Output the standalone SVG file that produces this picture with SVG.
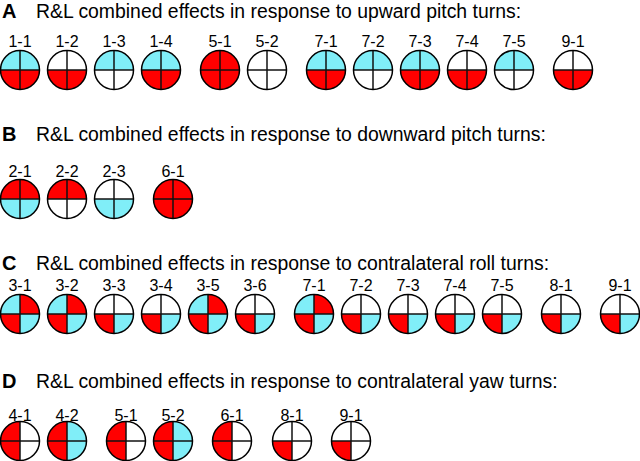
<svg xmlns="http://www.w3.org/2000/svg" xmlns:xlink="http://www.w3.org/1999/xlink" width="640" height="461" viewBox="0 0 640 461">
<style>
.c{fill:#80EEF8}
.r{fill:#FF0000}
.w{fill:#FFFFFF}
.ring{fill:none;stroke:#000;stroke-width:1.5}
.cross{stroke:#111;stroke-width:1.5}
.lbl{font-family:"Liberation Sans",Arial,sans-serif;font-size:16px;text-anchor:middle;fill:#000}
.ttl{font-family:"Liberation Sans",Arial,sans-serif;font-size:19.4px;fill:#000}
.let{font-family:"Liberation Sans",Arial,sans-serif;font-size:20px;font-weight:bold;fill:#000}
</style>
<defs>
<path id="tl" d="M0,0 L-19.5,0 A19.5,19.5 0 0 1 0,-19.5 Z"/>
<path id="tr" d="M0,0 L0,-19.5 A19.5,19.5 0 0 1 19.5,0 Z"/>
<path id="br" d="M0,0 L19.5,0 A19.5,19.5 0 0 1 0,19.5 Z"/>
<path id="bl" d="M0,0 L0,19.5 A19.5,19.5 0 0 1 -19.5,0 Z"/>
<g id="ring"><line class="cross" x1="-19.5" y1="0" x2="19.5" y2="0"/><line class="cross" x1="0" y1="-19.5" x2="0" y2="19.5"/><circle class="ring" r="19.5"/></g>
</defs>
<rect width="640" height="461" fill="#fff"/>

<g id="titles">
<text class="let" x="2" y="18">A</text><text class="ttl" x="36" y="18">R&amp;L combined effects in response to upward pitch turns:</text>
<text class="let" x="2" y="141">B</text><text class="ttl" x="36" y="141">R&amp;L combined effects in response to downward pitch turns:</text>
<text class="let" x="2" y="270">C</text><text class="ttl" x="36" y="270">R&amp;L combined effects in response to contralateral roll turns:</text>
<text class="let" x="2" y="388">D</text><text class="ttl" x="36" y="388">R&amp;L combined effects in response to contralateral yaw turns:</text>
</g>

<g id="connectors"/>

<!-- A -->
<g id="A-1-1" transform="translate(20,70)"><use href="#tl" class="c"/><use href="#tr" class="c"/><use href="#bl" class="r"/><use href="#br" class="r"/><use href="#ring"/><text class="lbl" y="-23">1-1</text></g>
<g id="A-1-2" transform="translate(67,70)"><use href="#tl" class="w"/><use href="#tr" class="w"/><use href="#bl" class="r"/><use href="#br" class="r"/><use href="#ring"/><text class="lbl" y="-23">1-2</text></g>
<g id="A-1-3" transform="translate(114,70)"><use href="#tl" class="c"/><use href="#tr" class="c"/><use href="#bl" class="w"/><use href="#br" class="w"/><use href="#ring"/><text class="lbl" y="-23">1-3</text></g>
<g id="A-1-4" transform="translate(161,70)"><use href="#tl" class="c"/><use href="#tr" class="c"/><use href="#bl" class="r"/><use href="#br" class="r"/><use href="#ring"/><text class="lbl" y="-23">1-4</text></g>
<g id="A-5-1" transform="translate(220,70)"><use href="#tl" class="r"/><use href="#tr" class="r"/><use href="#bl" class="r"/><use href="#br" class="r"/><use href="#ring"/><text class="lbl" y="-23">5-1</text></g>
<g id="A-5-2" transform="translate(267,70)"><use href="#tl" class="w"/><use href="#tr" class="w"/><use href="#bl" class="w"/><use href="#br" class="w"/><use href="#ring"/><text class="lbl" y="-23">5-2</text></g>
<g id="A-7-1" transform="translate(326,70)"><use href="#tl" class="c"/><use href="#tr" class="c"/><use href="#bl" class="r"/><use href="#br" class="r"/><use href="#ring"/><text class="lbl" y="-23">7-1</text></g>
<g id="A-7-2" transform="translate(373,70)"><use href="#tl" class="c"/><use href="#tr" class="c"/><use href="#bl" class="w"/><use href="#br" class="w"/><use href="#ring"/><text class="lbl" y="-23">7-2</text></g>
<g id="A-7-3" transform="translate(420,70)"><use href="#tl" class="c"/><use href="#tr" class="c"/><use href="#bl" class="r"/><use href="#br" class="r"/><use href="#ring"/><text class="lbl" y="-23">7-3</text></g>
<g id="A-7-4" transform="translate(467,70)"><use href="#tl" class="w"/><use href="#tr" class="w"/><use href="#bl" class="r"/><use href="#br" class="r"/><use href="#ring"/><text class="lbl" y="-23">7-4</text></g>
<g id="A-7-5" transform="translate(514,70)"><use href="#tl" class="c"/><use href="#tr" class="c"/><use href="#bl" class="w"/><use href="#br" class="w"/><use href="#ring"/><text class="lbl" y="-23">7-5</text></g>
<g id="A-9-1" transform="translate(573,70)"><use href="#tl" class="w"/><use href="#tr" class="w"/><use href="#bl" class="r"/><use href="#br" class="r"/><use href="#ring"/><text class="lbl" y="-23">9-1</text></g>

<!-- B -->
<g id="B-2-1" transform="translate(20,199)"><use href="#tl" class="r"/><use href="#tr" class="r"/><use href="#bl" class="c"/><use href="#br" class="c"/><use href="#ring"/><text class="lbl" y="-22">2-1</text></g>
<g id="B-2-2" transform="translate(67,199)"><use href="#tl" class="r"/><use href="#tr" class="r"/><use href="#bl" class="w"/><use href="#br" class="w"/><use href="#ring"/><text class="lbl" y="-22">2-2</text></g>
<g id="B-2-3" transform="translate(114,199)"><use href="#tl" class="w"/><use href="#tr" class="w"/><use href="#bl" class="c"/><use href="#br" class="c"/><use href="#ring"/><text class="lbl" y="-22">2-3</text></g>
<g id="B-6-1" transform="translate(173,199)"><use href="#tl" class="r"/><use href="#tr" class="r"/><use href="#bl" class="r"/><use href="#br" class="r"/><use href="#ring"/><text class="lbl" y="-22">6-1</text></g>

<!-- C -->
<g id="C-3-1" transform="translate(20,314)"><use href="#tl" class="c"/><use href="#tr" class="r"/><use href="#bl" class="r"/><use href="#br" class="c"/><use href="#ring"/><text class="lbl" y="-23">3-1</text></g>
<g id="C-3-2" transform="translate(67,314)"><use href="#tl" class="c"/><use href="#tr" class="r"/><use href="#bl" class="r"/><use href="#br" class="c"/><use href="#ring"/><text class="lbl" y="-23">3-2</text></g>
<g id="C-3-3" transform="translate(114,314)"><use href="#tl" class="w"/><use href="#tr" class="w"/><use href="#bl" class="r"/><use href="#br" class="c"/><use href="#ring"/><text class="lbl" y="-23">3-3</text></g>
<g id="C-3-4" transform="translate(161,314)"><use href="#tl" class="w"/><use href="#tr" class="w"/><use href="#bl" class="r"/><use href="#br" class="c"/><use href="#ring"/><text class="lbl" y="-23">3-4</text></g>
<g id="C-3-5" transform="translate(208,314)"><use href="#tl" class="c"/><use href="#tr" class="r"/><use href="#bl" class="r"/><use href="#br" class="c"/><use href="#ring"/><text class="lbl" y="-23">3-5</text></g>
<g id="C-3-6" transform="translate(255,314)"><use href="#tl" class="w"/><use href="#tr" class="w"/><use href="#bl" class="r"/><use href="#br" class="c"/><use href="#ring"/><text class="lbl" y="-23">3-6</text></g>
<g id="C-7-1" transform="translate(314,314)"><use href="#tl" class="c"/><use href="#tr" class="r"/><use href="#bl" class="r"/><use href="#br" class="c"/><use href="#ring"/><text class="lbl" y="-23">7-1</text></g>
<g id="C-7-2" transform="translate(361,314)"><use href="#tl" class="w"/><use href="#tr" class="w"/><use href="#bl" class="r"/><use href="#br" class="c"/><use href="#ring"/><text class="lbl" y="-23">7-2</text></g>
<g id="C-7-3" transform="translate(408,314)"><use href="#tl" class="w"/><use href="#tr" class="w"/><use href="#bl" class="r"/><use href="#br" class="c"/><use href="#ring"/><text class="lbl" y="-23">7-3</text></g>
<g id="C-7-4" transform="translate(455,314)"><use href="#tl" class="w"/><use href="#tr" class="w"/><use href="#bl" class="r"/><use href="#br" class="c"/><use href="#ring"/><text class="lbl" y="-23">7-4</text></g>
<g id="C-7-5" transform="translate(502,314)"><use href="#tl" class="w"/><use href="#tr" class="w"/><use href="#bl" class="r"/><use href="#br" class="c"/><use href="#ring"/><text class="lbl" y="-23">7-5</text></g>
<g id="C-8-1" transform="translate(561,314)"><use href="#tl" class="w"/><use href="#tr" class="w"/><use href="#bl" class="r"/><use href="#br" class="c"/><use href="#ring"/><text class="lbl" y="-23">8-1</text></g>
<g id="C-9-1" transform="translate(620,314)"><use href="#tl" class="w"/><use href="#tr" class="w"/><use href="#bl" class="r"/><use href="#br" class="c"/><use href="#ring"/><text class="lbl" y="-23">9-1</text></g>

<!-- D -->
<g id="D-4-1" transform="translate(20,441)"><use href="#tl" class="r"/><use href="#tr" class="w"/><use href="#bl" class="r"/><use href="#br" class="w"/><use href="#ring"/><text class="lbl" y="-20">4-1</text></g>
<g id="D-4-2" transform="translate(67,441)"><use href="#tl" class="r"/><use href="#tr" class="c"/><use href="#bl" class="r"/><use href="#br" class="c"/><use href="#ring"/><text class="lbl" y="-20">4-2</text></g>
<g id="D-5-1" transform="translate(126,441)"><use href="#tl" class="r"/><use href="#tr" class="w"/><use href="#bl" class="r"/><use href="#br" class="w"/><use href="#ring"/><text class="lbl" y="-20">5-1</text></g>
<g id="D-5-2" transform="translate(173,441)"><use href="#tl" class="r"/><use href="#tr" class="c"/><use href="#bl" class="r"/><use href="#br" class="c"/><use href="#ring"/><text class="lbl" y="-20">5-2</text></g>
<g id="D-6-1" transform="translate(232,441)"><use href="#tl" class="r"/><use href="#tr" class="w"/><use href="#bl" class="r"/><use href="#br" class="w"/><use href="#ring"/><text class="lbl" y="-20">6-1</text></g>
<g id="D-8-1" transform="translate(292,441)"><use href="#tl" class="w"/><use href="#tr" class="w"/><use href="#bl" class="r"/><use href="#br" class="w"/><use href="#ring"/><text class="lbl" y="-20">8-1</text></g>
<g id="D-9-1" transform="translate(351,441)"><use href="#tl" class="w"/><use href="#tr" class="w"/><use href="#bl" class="r"/><use href="#br" class="w"/><use href="#ring"/><text class="lbl" y="-20">9-1</text></g>
</svg>
